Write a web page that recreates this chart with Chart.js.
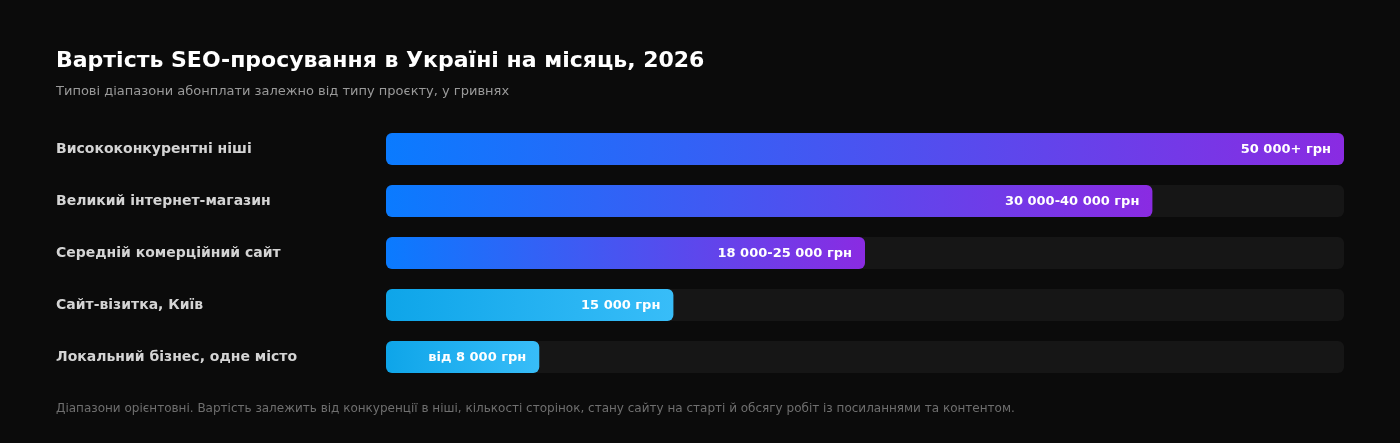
<!DOCTYPE html>
<html>
<head>
<meta charset="utf-8">
<script src="https://cdn.jsdelivr.net/npm/chart.js@4/dist/chart.umd.min.js"></script>
<style>
  body { margin: 0; background: #0b0b0b; font-family: "DejaVu Sans", sans-serif; }
  .wrap { position: relative; width: 1400px; height: 443px; }
  canvas { position: absolute; left: 0; top: 0; }
  h1 { position: absolute; left: 56px; top: 47px; margin: 0; color: #fff; font-size: 22px; font-weight: bold; }
  .sub { position: absolute; left: 56px; top: 83px; color: #9a9a9a; font-size: 13px; }
  .foot { position: absolute; left: 56px; top: 401px; color: #6f6f6f; font-size: 12px; }
</style>
</head>
<body>
<div class="wrap">
  <canvas id="chart" width="1400" height="443"></canvas>
  <h1>Вартість SEO-просування в Україні на місяць, 2026</h1>
  <div class="sub">Типові діапазони абонплати залежно від типу проєкту, у гривнях</div>
  <div class="foot">Діапазони орієнтовні. Вартість залежить від конкуренції в ніші, кількості сторінок, стану сайту на старті й обсягу робіт із посиланнями та контентом.</div>
</div>
<script>
const categories = ['Висококонкурентні ніші', 'Великий інтернет-магазин', 'Середній комерційний сайт', 'Сайт-візитка, Київ', 'Локальний бізнес, одне місто'];
const values = [100, 80, 50, 30, 16];
const valueLabels = ['50 000+ грн', '30 000-40 000 грн', '18 000-25 000 грн', '15 000 грн', 'від 8 000 грн'];
const track = [100, 100, 100, 100, 100];
const palette = [['#0a7bff', '#8a2be2'], ['#0a7bff', '#8a2be2'], ['#0a7bff', '#8a2be2'], ['#0ea5e9', '#38bdf8'], ['#0ea5e9', '#38bdf8']];

function barFill(ctx) {
  const chart = ctx.chart;
  if (!chart.chartArea) return palette[ctx.dataIndex][0];
  const x = chart.scales.x;
  const x0 = x.getPixelForValue(0);
  const x1 = x.getPixelForValue(values[ctx.dataIndex]);
  const g = chart.ctx.createLinearGradient(x0, 0, x1, 0);
  g.addColorStop(0, palette[ctx.dataIndex][0]);
  g.addColorStop(1, palette[ctx.dataIndex][1]);
  return g;
}

const valueText = {
  id: 'valueText',
  afterDatasetsDraw(chart) {
    const c = chart.ctx;
    const meta = chart.getDatasetMeta(0);
    c.save();
    c.font = 'bold 13px "DejaVu Sans"';
    c.fillStyle = '#ffffff';
    c.textAlign = 'right';
    c.textBaseline = 'middle';
    meta.data.forEach((bar, i) => c.fillText(valueLabels[i], bar.x - 13, bar.y + 1));
    c.restore();
  }
};

new Chart(document.getElementById('chart'), {
  type: 'bar',
  data: {
    labels: categories,
    datasets: [
      { data: values, backgroundColor: barFill, borderRadius: 6, borderSkipped: false, order: 1,
        barPercentage: 32 / 52, categoryPercentage: 1 },
      { data: track, backgroundColor: '#161616', borderRadius: 6, borderSkipped: false, order: 2,
        barPercentage: 32 / 52, categoryPercentage: 1 }
    ]
  },
  options: {
    indexAxis: 'y',
    responsive: false,
    animation: false,
    layout: { padding: { left: 56, right: 56, top: 123, bottom: 60 } },
    plugins: { legend: { display: false }, tooltip: { enabled: false } },
    scales: {
      x: { display: false, min: 0, max: 100, grid: { display: false } },
      y: {
        stacked: false,
        grid: { display: false },
        border: { display: false },
        afterFit(s) { s.width = 330; },
        ticks: { crossAlign: 'far', color: '#d4d4d4', padding: 0, font: { family: 'DejaVu Sans', size: 14, weight: 'bold' } }
      }
    },
    datasets: { bar: { grouped: false } }
  },
  plugins: [valueText]
});
</script>
</body>
</html>
